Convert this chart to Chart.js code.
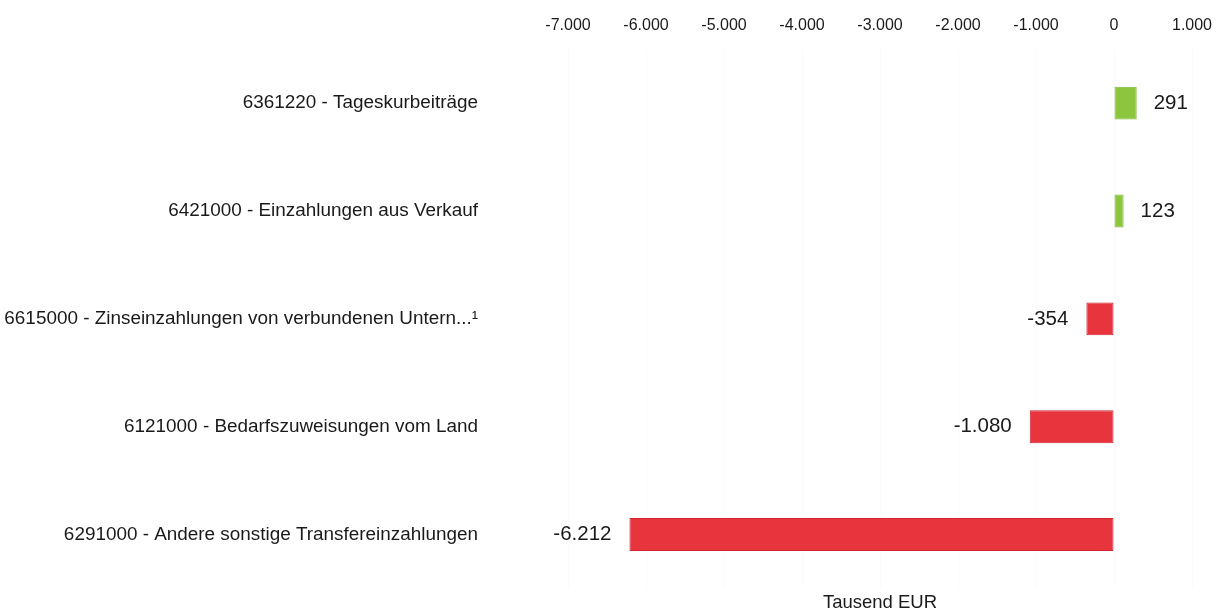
<!DOCTYPE html>
<html>
<head>
<meta charset="utf-8">
<script src="https://cdn.jsdelivr.net/npm/chart.js@4/dist/chart.umd.min.js"></script>
<style>
  html, body { margin: 0; padding: 0; background: #ffffff; }
  #wrap { width: 1216px; height: 612px; position: relative; }
</style>
</head>
<body>
<div id="wrap"><canvas id="c" width="1216" height="612"></canvas></div>
<script>
const categories = [
  "6361220 - Tageskurbeiträge",
  "6421000 - Einzahlungen aus Verkauf",
  "6615000 - Zinseinzahlungen von verbundenen Untern...¹",
  "6121000 - Bedarfszuweisungen vom Land",
  "6291000 - Andere sonstige Transfereinzahlungen"
];
const values = [291, 123, -354, -1080, -6212];
const axisMin = -7000;
const axisMax = 1000;
const axisStep = 1000;
const axisTitle = "Tausend EUR";

const GREEN = "#8cc63f";
const GREEN_EDGE = "#7cb52f";
const RED = "#e8343c";
const RED_EDGE = "#d02630";
const FONT = "'Liberation Sans', Arial, sans-serif";

function fmtDE(v) {
  const neg = v < 0;
  const s = Math.abs(Math.round(v)).toString().replace(/\B(?=(\d{3})+(?!\d))/g, ".");
  return (neg ? "-" : "") + s;
}

const barLabels = {
  id: "barLabels",
  afterDatasetsDraw(chart) {
    const ctx = chart.ctx;
    const meta = chart.getDatasetMeta(0);
    ctx.save();
    ctx.font = "20.5px " + FONT;
    ctx.fillStyle = "#1a1a1a";
    ctx.textBaseline = "middle";
    meta.data.forEach((bar, i) => {
      const v = values[i];
      if (v >= 0) {
        ctx.textAlign = "left";
        ctx.fillText(fmtDE(v), bar.x + 17, bar.y);
      } else {
        ctx.textAlign = "right";
        ctx.fillText(fmtDE(v), bar.x - 18, bar.y);
      }
    });
    ctx.restore();
  }
};

new Chart(document.getElementById("c"), {
  type: "bar",
  data: {
    labels: categories,
    datasets: [{
      data: values,
      backgroundColor: values.map(v => v >= 0 ? GREEN : RED),
      borderColor: values.map(v => v >= 0 ? GREEN_EDGE : RED_EDGE),
      borderWidth: 1,
      borderSkipped: false,
      categoryPercentage: 1,
      barPercentage: 0.305
    }]
  },
  options: {
    indexAxis: "y",
    responsive: false,
    animation: false,
    devicePixelRatio: 1,
    layout: { padding: { top: 16, right: 24, bottom: 0, left: 0 } },
    plugins: { legend: { display: false }, tooltip: { enabled: false } },
    scales: {
      x: {
        position: "top",
        min: axisMin,
        max: axisMax,
        grid: { color: "rgba(0,0,0,0.015)", drawTicks: true, tickLength: 14, tickColor: "rgba(0,0,0,0)" },
        border: { display: false },
        ticks: {
          stepSize: axisStep,
          padding: 0,
          color: "#1a1a1a",
          font: { family: FONT, size: 16 },
          callback: v => fmtDE(v)
        }
      },
      x2: {
        position: "bottom",
        axis: "x",
        min: axisMin,
        max: axisMax,
        grid: { display: false, drawTicks: false },
        border: { display: false },
        ticks: { display: false },
        title: {
          display: true,
          text: axisTitle,
          color: "#1a1a1a",
          font: { family: FONT, size: 18.5, lineHeight: 1 },
          padding: { top: 5, bottom: 0 }
        }
      },
      y: {
        position: "left",
        weight: 1,
        grid: { display: false, drawTicks: false },
        border: { display: false },
        afterFit: s => { s.width = 478; },
        ticks: {
          padding: 0,
          color: "#1a1a1a",
          font: { family: FONT, size: 18.9 }
        }
      },
      yGap: {
        type: "category",
        position: "left",
        axis: "y",
        weight: 0,
        labels: categories,
        grid: { display: false, drawTicks: false },
        border: { display: false },
        ticks: { display: false },
        afterFit: s => { s.width = 90; }
      }
    }
  },
  plugins: [barLabels]
});
</script>
</body>
</html>
